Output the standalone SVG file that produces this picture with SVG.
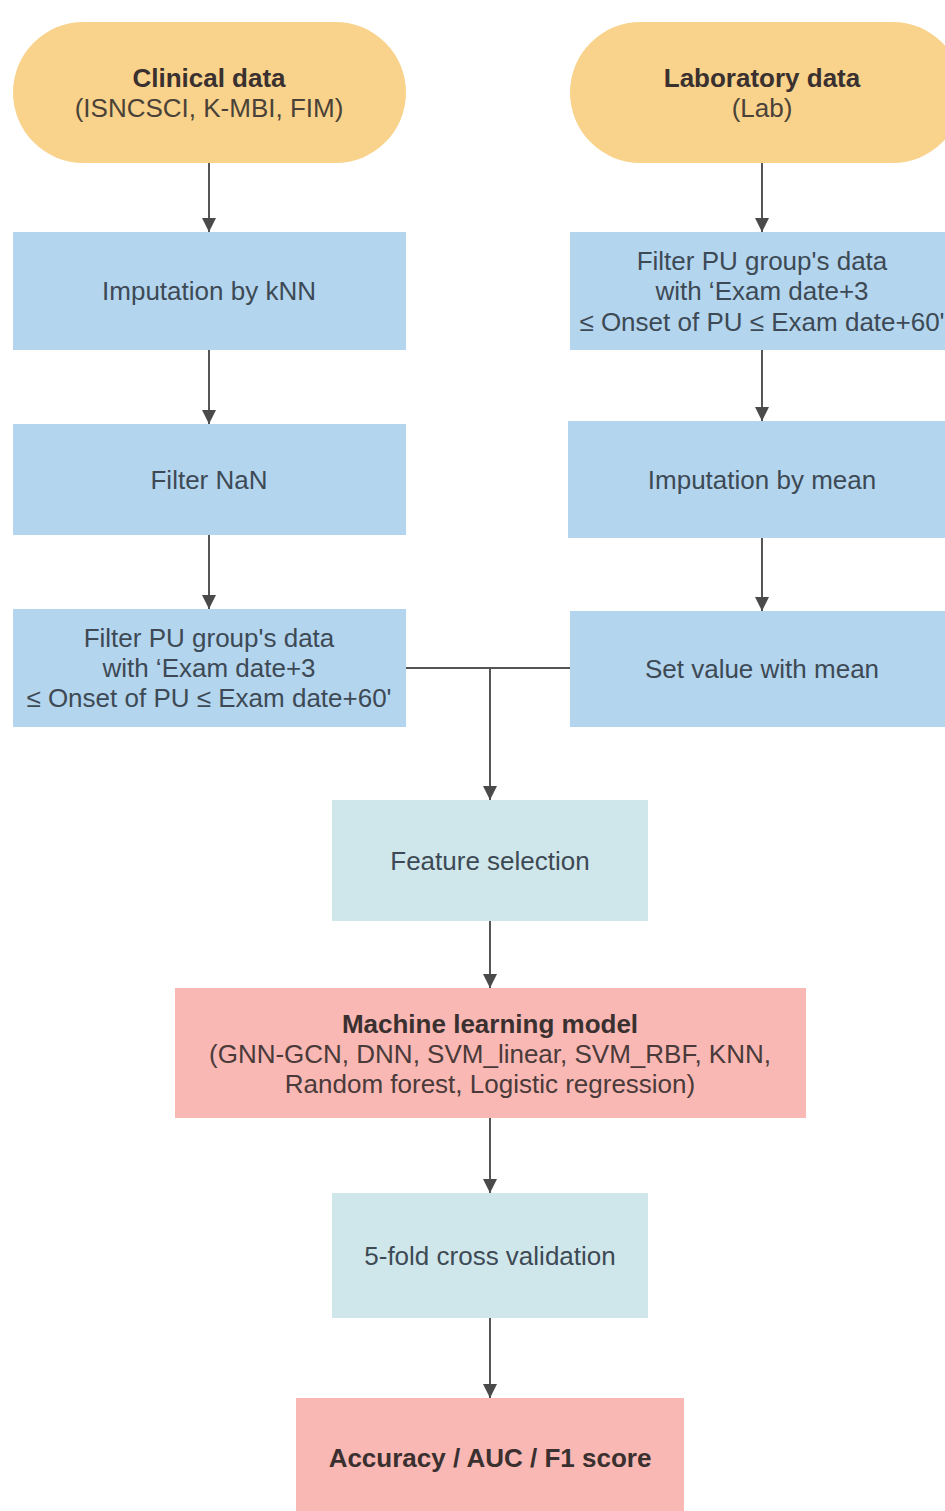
<svg xmlns="http://www.w3.org/2000/svg" width="945" height="1511" viewBox="0 0 945 1511">
<defs>
<marker id="arr" viewBox="0 0 14 14" refX="14" refY="7" markerWidth="14" markerHeight="14" markerUnits="userSpaceOnUse" orient="auto">
<path d="M0,0 L14,7 L0,14 Z" fill="#4a4a4a"/>
</marker>
</defs>
<style>
text{font-family:"Liberation Sans",Arial,sans-serif;font-size:26px;fill:#3d4a55;text-anchor:middle;dominant-baseline:central}
.b{font-weight:bold;fill:#3a3030}
.y{fill:#F9D38B}
.bl{fill:#B4D5EE}
.t{fill:#CFE7EA}
.p{fill:#F9B8B3}
.c{stroke:#555;stroke-width:2;fill:none}
</style>
<rect width="945" height="1511" fill="#fff"/>
<g id="connectors">
<path class="c" d="M209,163 V232" marker-end="url(#arr)"/>
<path class="c" d="M209,350 V424" marker-end="url(#arr)"/>
<path class="c" d="M209,535 V609" marker-end="url(#arr)"/>
<path class="c" d="M762,163 V232" marker-end="url(#arr)"/>
<path class="c" d="M762,350 V421" marker-end="url(#arr)"/>
<path class="c" d="M762,538 V611" marker-end="url(#arr)"/>
<path class="c" d="M406,668 H570"/>
<path class="c" d="M490,668 V800" marker-end="url(#arr)"/>
<path class="c" d="M490,921 V988" marker-end="url(#arr)"/>
<path class="c" d="M490,1118 V1193" marker-end="url(#arr)"/>
<path class="c" d="M490,1318 V1398" marker-end="url(#arr)"/>
</g>
<g id="clinical">
<rect class="y" x="13" y="22" width="393" height="141" rx="70.5"/>
<text class="b" x="209" y="78">Clinical data</text>
<text x="209" y="108" style="fill:#4a4238">(ISNCSCI, K-MBI, FIM)</text>
</g>
<g id="lab">
<rect class="y" x="570" y="22" width="393" height="141" rx="70.5"/>
<text class="b" x="762" y="78">Laboratory data</text>
<text x="762" y="108" style="fill:#4a4238">(Lab)</text>
</g>
<g id="impute-knn">
<rect class="bl" x="13" y="232" width="393" height="118"/>
<text x="209" y="291">Imputation by kNN</text>
</g>
<g id="filter-nan">
<rect class="bl" x="13" y="424" width="393" height="111"/>
<text x="209" y="480">Filter NaN</text>
</g>
<g id="filter-pu-left">
<rect class="bl" x="13" y="609" width="393" height="118"/>
<text x="209" y="638">Filter PU group's data</text>
<text x="209" y="668">with ‘Exam date+3</text>
<text x="209" y="698">≤ Onset of PU ≤ Exam date+60'</text>
</g>
<g id="filter-pu-right">
<rect class="bl" x="570" y="232" width="393" height="118"/>
<text x="762" y="261">Filter PU group's data</text>
<text x="762" y="291">with ‘Exam date+3</text>
<text x="762" y="322">≤ Onset of PU ≤ Exam date+60'</text>
</g>
<g id="impute-mean">
<rect class="bl" x="568" y="421" width="395" height="117"/>
<text x="762" y="480">Imputation by mean</text>
</g>
<g id="set-value">
<rect class="bl" x="570" y="611" width="393" height="116"/>
<text x="762" y="669">Set value with mean</text>
</g>
<g id="feature-selection">
<rect class="t" x="332" y="800" width="316" height="121"/>
<text x="490" y="861">Feature selection</text>
</g>
<g id="ml-model">
<rect class="p" x="175" y="988" width="631" height="130"/>
<text class="b" x="490" y="1024">Machine learning model</text>
<text x="490" y="1054" style="fill:#4a3a3a">(GNN-GCN, DNN, SVM_linear, SVM_RBF, KNN,</text>
<text x="490" y="1084" style="fill:#4a3a3a">Random forest, Logistic regression)</text>
</g>
<g id="cross-validation">
<rect class="t" x="332" y="1193" width="316" height="125"/>
<text x="490" y="1256">5-fold cross validation</text>
</g>
<g id="metrics">
<rect class="p" x="296" y="1398" width="388" height="125"/>
<text class="b" x="490" y="1458">Accuracy / AUC / F1 score</text>
</g>
</svg>
